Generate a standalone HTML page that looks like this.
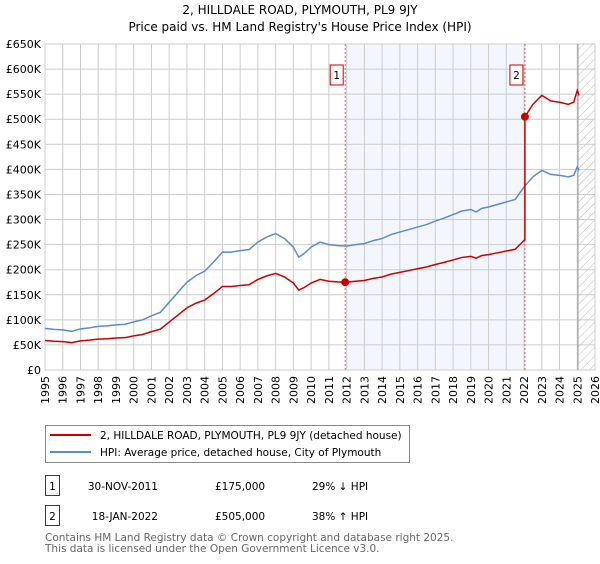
<!DOCTYPE html>
<html><head><meta charset="utf-8"><style>
body{margin:0;background:#fff;font-family:"DejaVu Sans","Liberation Sans",sans-serif;}
svg text{font-family:"DejaVu Sans","Liberation Sans",sans-serif;}
</style></head><body>
<svg id="chart" width="600" height="560" xmlns="http://www.w3.org/2000/svg">
<text x="300" y="14" text-anchor="middle" font-size="12">2, HILLDALE ROAD, PLYMOUTH, PL9 9JY</text>
<text x="300" y="31" text-anchor="middle" font-size="12">Price paid vs. HM Land Registry's House Price Index (HPI)</text>
<defs><pattern id="hatch" width="6" height="6" patternUnits="userSpaceOnUse" patternTransform="rotate(45)"><line x1="0" y1="0" x2="0" y2="6" stroke="#bbb" stroke-width="1"/></pattern></defs>
<g id="grid"></g><g id="axes"></g><g id="series"></g>
<rect x="45.5" y="425.5" width="364" height="37" fill="#fff" stroke="#888"/>
<line x1="50" y1="435" x2="91" y2="435" stroke="#cc0000" stroke-width="2"/>
<text x="100" y="439" font-size="10.5">2, HILLDALE ROAD, PLYMOUTH, PL9 9JY (detached house)</text>
<line x1="50" y1="452" x2="91" y2="452" stroke="#5b8bd0" stroke-width="2"/>
<text x="100" y="456" font-size="10.5">HPI: Average price, detached house, City of Plymouth</text>
<rect x="45.5" y="475.5" width="14" height="20" fill="#fff" stroke="#cc0000"/>
<text x="52.5" y="490" text-anchor="middle" font-size="10.5">1</text>
<text x="158" y="490" text-anchor="end" font-size="10.5">30-NOV-2011</text>
<text x="215" y="490" font-size="10.5">£175,000</text>
<text x="312" y="490" font-size="10.5">29% ↓ HPI</text>
<rect x="45.5" y="505.5" width="14" height="20" fill="#fff" stroke="#cc0000"/>
<text x="52.5" y="520" text-anchor="middle" font-size="10.5">2</text>
<text x="158" y="520" text-anchor="end" font-size="10.5">18-JAN-2022</text>
<text x="215" y="520" font-size="10.5">£505,000</text>
<text x="312" y="520" font-size="10.5">38% ↑ HPI</text>
<text x="45" y="541" font-size="10.5" fill="#666">Contains HM Land Registry data © Crown copyright and database right 2025.</text>
<text x="45" y="552" font-size="10.5" fill="#666">This data is licensed under the Open Government Licence v3.0.</text>
</svg>
<script>
const hpiYears=[1995,1995.5,1996,1996.5,1997,1997.5,1998,1998.5,1999,1999.5,2000,2000.5,2001,2001.5,2002,2002.5,2003,2003.5,2004,2004.5,2005,2005.5,2006,2006.5,2007,2007.5,2008,2008.5,2009,2009.3,2009.6,2010,2010.5,2011,2011.5,2012,2012.5,2013,2013.5,2014,2014.5,2015,2015.5,2016,2016.5,2017,2017.5,2018,2018.5,2019,2019.3,2019.6,2020,2020.5,2021,2021.5,2022,2022.5,2023,2023.5,2024,2024.5,2024.8,2025,2025.1];
const hpiValues=[83,81,80,77,82,84,87,88,90,91,96,100,108,115,135,155,175,188,197,215,235,235,238,240,255,265,272,262,245,225,232,245,255,250,248,247,250,252,258,262,270,275,280,285,290,297,303,310,317,320,315,322,325,330,335,340,365,385,398,390,388,385,388,405,398];
const saleYears=[2011.92,2022.05];
const salePrices=[175,505];
const yTicks=[0,50,100,150,200,250,300,350,400,450,500,550,600,650];
const yTickLabels=["£0","£50K","£100K","£150K","£200K","£250K","£300K","£350K","£400K","£450K","£500K","£550K","£600K","£650K"];
const xTicks=[1995,1996,1997,1998,1999,2000,2001,2002,2003,2004,2005,2006,2007,2008,2009,2010,2011,2012,2013,2014,2015,2016,2017,2018,2019,2020,2021,2022,2023,2024,2025,2026];
const NS="http://www.w3.org/2000/svg";
const X0=45,X1=595,Y0=370,Y1=44;
const xs=y=>X0+(y-1995)/(2026-1995)*(X1-X0);
const ys=v=>Y0-v/650*(Y0-Y1);
function mk(p,t,a){const e=document.createElementNS(NS,t);for(const k in a)e.setAttribute(k,a[k]);p.appendChild(e);return e;}
const grid=document.getElementById('grid'),axes=document.getElementById('axes'),ser=document.getElementById('series');
let r=mk(grid,'rect',{x:xs(saleYears[0]),y:Y1,width:xs(saleYears[1])-xs(saleYears[0]),height:Y0-Y1,fill:'#eef3fc',opacity:0.7});

r=mk(grid,'rect',{x:xs(2025.04),y:Y1,width:X1-xs(2025.04),height:Y0-Y1,fill:'url(#hatch)'});

xTicks.forEach(t=>{mk(grid,'line',{x1:xs(t),y1:Y1,x2:xs(t),y2:Y0,stroke:'#ccc'});
 const tx=mk(axes,'text',{x:0,y:0,transform:`translate(${xs(t)+4},${Y0+6}) rotate(-90)`,'text-anchor':'end','font-size':'11'});tx.textContent=t;
 });
yTicks.forEach((t,i)=>{mk(grid,'line',{x1:X0,y1:ys(t),x2:X1,y2:ys(t),stroke:'#ccc'});
 const tx=mk(axes,'text',{x:X0-4,y:ys(t)+4,'text-anchor':'end','font-size':'11'});tx.textContent=yTickLabels[i];
 });
mk(grid,'rect',{x:X0,y:Y1,width:X1-X0,height:Y0-Y1,fill:'none',stroke:'#ccc'});
mk(grid,'line',{x1:xs(2025.04),y1:Y1,x2:xs(2025.04),y2:Y0,stroke:'#999'});
function hpiAt(y){for(let i=1;i<hpiYears.length;i++){if(y<=hpiYears[i]){const f=(y-hpiYears[i-1])/(hpiYears[i]-hpiYears[i-1]);return hpiValues[i-1]+f*(hpiValues[i]-hpiValues[i-1]);}}return hpiValues[hpiValues.length-1];}
// red series: HPI indexed to each sale
const r1=salePrices[0]/hpiAt(saleYears[0]),r2=salePrices[1]/hpiAt(saleYears[1]);
let redPts=[];
hpiYears.forEach((y,i)=>{if(y<saleYears[1])redPts.push([y,hpiValues[i]*r1]);});
redPts.push([saleYears[1],hpiAt(saleYears[1])*r1]);redPts.push([saleYears[1],salePrices[1]]);
hpiYears.forEach((y,i)=>{if(y>saleYears[1])redPts.push([y,hpiValues[i]*r2]);});
saleYears.forEach((y,i)=>{mk(ser,'line',{x1:xs(y),y1:Y1,x2:xs(y),y2:Y0,stroke:'#e06060','stroke-dasharray':'2,2','stroke-width':1});
 const b=mk(ser,'rect',{x:xs(y)-15,y:65,width:13,height:20,fill:'#fff',stroke:'#cc0000'});
 
 const t=mk(ser,'text',{x:xs(y)-8.5,y:79,'text-anchor':'middle','font-size':'10.5'});t.textContent=i+1;});
let p=mk(ser,'polyline',{points:hpiYears.map((y,i)=>xs(y)+','+ys(hpiValues[i])).join(' '),fill:'none',stroke:'#5b8bd0','stroke-width':1.5});

p=mk(ser,'polyline',{points:redPts.map(q=>xs(q[0])+','+ys(q[1])).join(' '),fill:'none',stroke:'#cc0000','stroke-width':1.5});

saleYears.forEach((y,i)=>{const c=mk(ser,'circle',{cx:xs(y),cy:ys(salePrices[i]),r:4,fill:'#cc0000'});
 });
</script>
</body></html>
